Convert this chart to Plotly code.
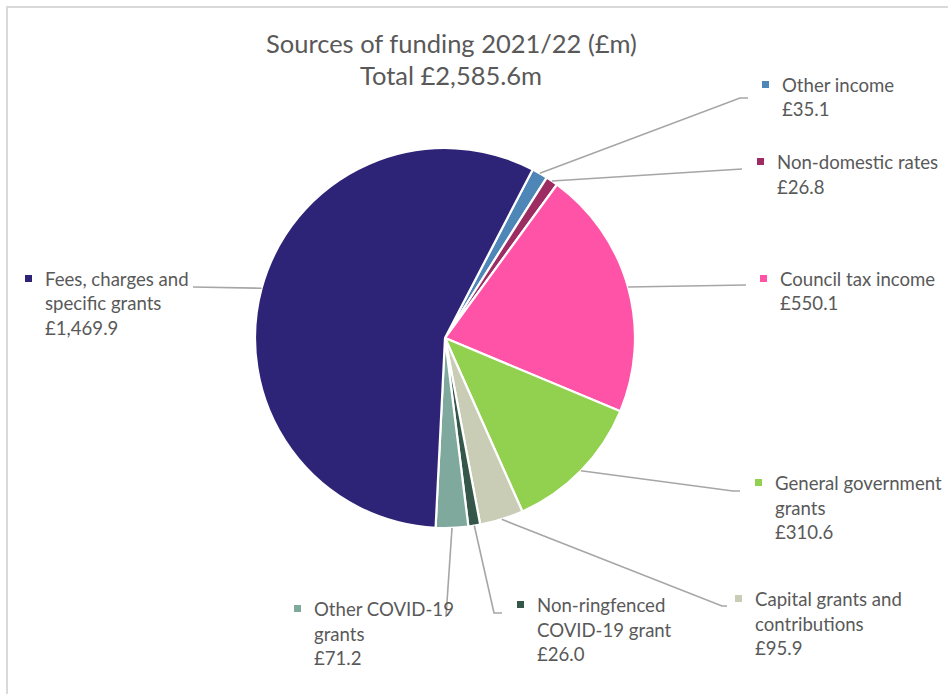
import plotly.graph_objects as go
import math

# Funding sources 2021/22, £m (clockwise from the first slice)
categories = [
    "Other income",
    "Non-domestic rates",
    "Council tax income",
    "General government grants",
    "Capital grants and contributions",
    "Non-ringfenced COVID-19 grant",
    "Other COVID-19 grants",
    "Fees, charges and specific grants",
]
values = [35.1, 26.8, 550.1, 310.6, 95.9, 26.0, 71.2, 1469.9]
total_label = "Total £2,585.6m"

colors = ["#4F86B8", "#9C2C62", "#FF53A7", "#92D050",
          "#C9CDB5", "#34574A", "#7FA99C", "#2E2477"]

# Label wrapping as displayed
wrapped = {
    "Other income": ["Other income"],
    "Non-domestic rates": ["Non-domestic rates"],
    "Council tax income": ["Council tax income"],
    "General government grants": ["General government", "grants"],
    "Capital grants and contributions": ["Capital grants and", "contributions"],
    "Non-ringfenced COVID-19 grant": ["Non-ringfenced", "COVID-19 grant"],
    "Other COVID-19 grants": ["Other COVID-19", "grants"],
    "Fees, charges and specific grants": ["Fees, charges and", "specific grants"],
}

W, H = 948, 694
CX, CY, R = 445, 338, 190
ROTATION = 27.5

# label layout (pixels): text left x, first baseline y, leader-line end points
label_layout = {
    "Other income": dict(tx=780, by=93, path=[(740, 98), (748, 98)]),
    "Non-domestic rates": dict(tx=775, by=170, path=[(742, 169)]),
    "Council tax income": dict(tx=778, by=287, path=[(746, 285)]),
    "General government grants": dict(tx=773, by=491, path=[(733, 491), (740, 491)]),
    "Capital grants and contributions": dict(tx=753, by=607, path=[(722, 606), (727, 606)]),
    "Non-ringfenced COVID-19 grant": dict(tx=535, by=613, path=[(494, 613), (502, 613)]),
    "Other COVID-19 grants": dict(tx=312, by=617, path=[(446, 617)]),
    "Fees, charges and specific grants": dict(tx=43, by=287, path=[(193, 287)]),
}

LINE_H = 24.5
TEXT_COLOR = "#595959"
FONT = "Lato"


def px(x):
    return x / W


def py(y):
    return 1 - y / H


fig = go.Figure()
fig.add_trace(go.Pie(
    labels=categories,
    values=values,
    sort=False,
    direction="clockwise",
    rotation=ROTATION,
    marker=dict(colors=colors, line=dict(color="white", width=2.2)),
    textinfo="none",
    hoverinfo="label+value",
    showlegend=False,
    domain=dict(x=[px(CX - R), px(CX + R)], y=[py(CY + R), py(CY - R)]),
))

shapes = []
annotations = []

# chart area frame
shapes.append(dict(type="rect", xref="paper", yref="paper",
                   x0=px(7), y0=py(712), x1=px(962), y1=py(7),
                   line=dict(color="#D9D9D9", width=2), fillcolor="rgba(0,0,0,0)"))

total = sum(values)
cum = 0.0
for name, val, col in zip(categories, values, colors):
    mid = math.radians(ROTATION + (cum + val / 2) / total * 360)
    cum += val
    sx = CX + R * math.sin(mid)
    sy = CY - R * math.cos(mid)
    lay = label_layout[name]
    pts = [(sx, sy)] + lay["path"]
    path = "M " + " L ".join(f"{px(x):.5f},{py(y):.5f}" for x, y in pts)
    shapes.append(dict(type="path", xref="paper", yref="paper", path=path,
                       line=dict(color="#A6A6A6", width=1.6)))

    lines = wrapped[name] + [f"£{val:,.1f}"]
    # colour key square before the first line
    mx = lay["tx"] - 18
    my = lay["by"] - 12
    shapes.append(dict(type="rect", xref="paper", yref="paper",
                       x0=px(mx), x1=px(mx + 7), y0=py(my + 7), y1=py(my),
                       line=dict(width=0), fillcolor=col))
    for i, t in enumerate(lines):
        base = lay["by"] + i * LINE_H
        annotations.append(dict(
            text=t, xref="paper", yref="paper",
            x=px(lay["tx"]), y=py(base - 8),
            xanchor="left", yanchor="middle", showarrow=False,
            font=dict(family=FONT, size=18.6, color=TEXT_COLOR),
        ))

# title lines
for t, base in [("Sources of funding 2021/22 (£m)", 52), (total_label, 85)]:
    annotations.append(dict(
        text=t, xref="paper", yref="paper", x=px(451), y=py(base - 9.5),
        xanchor="center", yanchor="middle", showarrow=False,
        font=dict(family=FONT, size=25.5, color=TEXT_COLOR),
    ))

fig.update_layout(
    width=W, height=H,
    margin=dict(l=0, r=0, t=0, b=0),
    paper_bgcolor="white", plot_bgcolor="white",
    shapes=shapes, annotations=annotations,
)

fig.write_html("out.html")
